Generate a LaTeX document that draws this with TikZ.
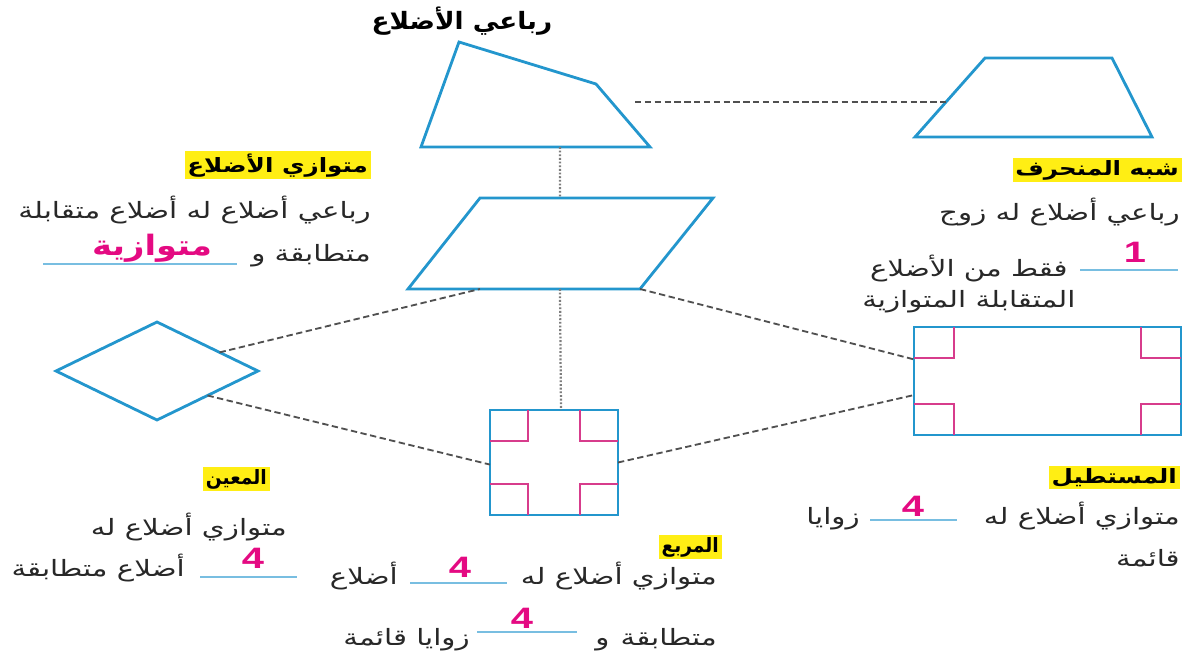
\documentclass[tikz,border=0pt]{standalone}
\usepackage{fontspec}
\usetikzlibrary{calc}
\newfontfamily\arbody[Script=Arabic, FakeStretch=1.3]{DejaVu Sans}
\newfontfamily\arlabel[Script=Arabic, FakeStretch=1.25]{DejaVu Sans}
\newfontfamily\arlabelnarrow[Script=Arabic, FakeStretch=0.95]{DejaVu Sans}
\newfontfamily\artitle[Script=Arabic, FakeStretch=1.1]{DejaVu Sans}
\newfontfamily\aranswer[Script=Arabic, FakeStretch=1.2]{DejaVu Sans}
\newfontfamily\digitfont[FakeStretch=1.35]{Liberation Sans}
\TeXXeTstate=1
\newcommand{\artext}[1]{\beginR #1\endR}
\definecolor{figblue}{RGB}{35,150,205}
\definecolor{markpink}{RGB}{215,60,140}
\definecolor{linkgray}{RGB}{80,80,80}
\definecolor{dotgray}{RGB}{125,125,125}
\definecolor{hlyellow}{RGB}{255,238,20}
\definecolor{blankblue}{RGB}{120,190,225}
\definecolor{ansmagenta}{RGB}{228,10,130}
\definecolor{textgray}{RGB}{40,40,40}
\tikzset{
  figline/.style={draw=figblue, line width=2pt, line join=miter},
  anglemark/.style={draw=markpink, line width=1.1pt},
  dashlink/.style={draw=linkgray, line width=1.3pt, dash pattern=on 4.5pt off 2.5pt},
  dotlink/.style={draw=dotgray, line width=1.6pt, dash pattern=on 1.3pt off 1.3pt},
  titletext/.style={font=\artitle\bfseries\fontsize{17}{19}\selectfont, inner sep=0pt, anchor=base},
  shapename/.style={font=\arlabel\bfseries\fontsize{14}{16}\selectfont, fill=hlyellow, inner xsep=2pt, inner ysep=1.5pt, anchor=base east},
  shortname/.style={shapename, font=\arlabelnarrow\bfseries\fontsize{14}{16}\selectfont},
  bodytext/.style={font=\arbody\fontsize{16}{18}\selectfont, text=textgray, inner sep=0pt, anchor=base east},
  blank/.style={draw=blankblue, line width=0.9pt},
  answer/.style={text=ansmagenta, font=\digitfont\bfseries\fontsize{21}{23}\selectfont, inner sep=0pt, anchor=base},
  answerword/.style={text=ansmagenta, font=\aranswer\bfseries\fontsize{20}{22}\selectfont, inner sep=0pt, anchor=base},
}
\begin{document}
\begin{tikzpicture}[x=0.025cm, y=-0.025cm]
    \useasboundingbox (0,0) rectangle (1197,657);

    % corners of the shapes
    \coordinate (qd-nw) at (459,42);
    \coordinate (qd-e) at (596,84);
    \coordinate (qd-se) at (650,147);
    \coordinate (qd-sw) at (421,147);

    \coordinate (tz-nw) at (985,58);
    \coordinate (tz-ne) at (1112,58);
    \coordinate (tz-se) at (1152,137);
    \coordinate (tz-sw) at (915,137);

    \coordinate (pg-nw) at (480,198);
    \coordinate (pg-ne) at (713,198);
    \coordinate (pg-se) at (640,289);
    \coordinate (pg-sw) at (408,289);

    \coordinate (rh-w) at (56,371);
    \coordinate (rh-n) at (157,322);
    \coordinate (rh-e) at (258,371);
    \coordinate (rh-s) at (157,420);

    \coordinate (sq-nw) at (490,410);
    \coordinate (sq-se) at (618,515);

    \coordinate (re-nw) at (914,327);
    \coordinate (re-se) at (1181,435);

    % shapes
    \draw[figline] (qd-nw) -- (qd-e) -- (qd-se) -- (qd-sw) -- cycle;
    \draw[figline] (tz-nw) -- (tz-ne) -- (tz-se) -- (tz-sw) -- cycle;
    \draw[figline] (pg-nw) -- (pg-ne) -- (pg-se) -- (pg-sw) -- cycle;
    \draw[figline] (rh-w) -- (rh-n) -- (rh-e) -- (rh-s) -- cycle;
    \draw[figline] (sq-nw) rectangle (sq-se);
    \draw[figline] (re-nw) rectangle (re-se);

    %right angle marks
    \foreach \cx/\cy/\dx/\dy in {490/410/1/1, 618/410/-1/1, 490/515/1/-1, 618/515/-1/-1}
        \draw[anglemark] (\cx+38*\dx,\cy) -- ++(0,31*\dy) -- (\cx,\cy+31*\dy);
    \foreach \cx/\cy/\dx/\dy in {914/327/1/1, 1181/327/-1/1, 914/435/1/-1, 1181/435/-1/-1}
        \draw[anglemark] (\cx+40*\dx,\cy) -- ++(0,31*\dy) -- (\cx,\cy+31*\dy);

    % links between the shapes
    \coordinate (qd-link) at (635,102);
    \coordinate (tz-link) at (948,102);
    \draw[dashlink] (qd-link) -- (tz-link);
    \draw[dotlink] ($(qd-sw)!0.607!(qd-se)$) -- ($(pg-nw)!0.343!(pg-ne)$);
    \draw[dotlink] ($(pg-sw)!0.655!(pg-se)$) -- (561,410);
    \draw[dashlink] ($(rh-n)!0.62!(rh-e)$) -- ($(pg-sw)!0.31!(pg-se)$);
    \draw[dashlink] ($(rh-e)!0.5!(rh-s)$) -- ($(sq-nw)!0.52!(490,515)$);
    \draw[dashlink] (pg-se) -- ($(re-nw)!0.3!(914,435)$);
    \draw[dashlink] ($(618,410)!0.5!(sq-se)$) -- ($(re-nw)!0.63!(914,435)$);

    % title
    \node[titletext] (ttlquad) at (462,30) {\artext{رباعي الأضلاع}};

    % parallelogram
    \node[shapename] (lblpar) at (371,172) {\artext{متوازي الأضلاع}};
    \node[bodytext] (txtpar1) at (371,218) {\artext{رباعي أضلاع له أضلاع متقابلة}};
    \node[bodytext] (txtpar2) at (371,261) {\artext{متطابقة و}};
    \draw[blank] (43,264) -- (237,264);
    \node[answerword] (anspar) at (152,255) {\artext{متوازية}};

    % trapezoid
    \node[shapename] (lbltrap) at (1182,175) {\artext{شبه المنحرف}};
    \node[bodytext] (txttrap1) at (1180,220) {\artext{رباعي أضلاع له زوج}};
    \draw[blank] (1080,270) -- (1178,270);
    \node[answer] (anstrap) at (1135,262) {1};
    \node[bodytext] (txttrap2) at (1068,276) {\artext{فقط من الأضلاع}};
    \node[bodytext, anchor=base west] (txttrap3) at (862,307) {\artext{المتقابلة المتوازية}};

    % rhombus
    \node[shortname] (lblrh) at (270,484) {\artext{المعين}};
    \node[bodytext] (txtrh1) at (287,535) {\artext{متوازي أضلاع له}};
    \draw[blank] (200,577) -- (297,577);
    \node[answer] (ansrh) at (253,568) {4};
    \node[bodytext] (txtrh2) at (185,576) {\artext{أضلاع متطابقة}};

    % square
    \node[shortname] (lblsq) at (722,552) {\artext{المربع}};
    \node[bodytext] (txtsq1) at (717,584) {\artext{متوازي أضلاع له}};
    \draw[blank] (410,583) -- (507,583);
    \node[answer] (anssq1) at (460,577) {4};
    \node[bodytext] (txtsq2) at (398,584) {\artext{أضلاع}};
    \node[bodytext] (txtsq3) at (717,645) {\artext{متطابقة\enspace و}};
    \draw[blank] (477,632) -- (577,632);
    \node[answer] (anssq2) at (522,628) {4};
    \node[bodytext] (txtsq4) at (470,645) {\artext{زوايا قائمة}};

    % rectangle
    \node[shapename] (lblre) at (1180,483) {\artext{المستطيل}};
    \node[bodytext] (txtre1) at (1180,524) {\artext{متوازي أضلاع له}};
    \draw[blank] (870,520) -- (957,520);
    \node[answer] (ansre) at (913,516) {4};
    \node[bodytext] (txtre2) at (860,524) {\artext{زوايا}};
    \node[bodytext] (txtre3) at (1180,566) {\artext{قائمة}};

\end{tikzpicture}
\end{document}
